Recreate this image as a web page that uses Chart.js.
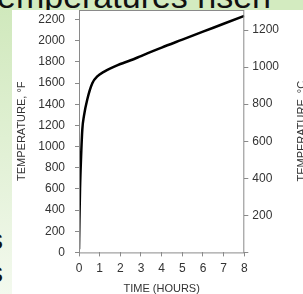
<!DOCTYPE html>
<html>
<head>
<meta charset="utf-8">
<script src="https://cdn.jsdelivr.net/npm/chart.js@4"></script>
<style>
  html, body { margin: 0; padding: 0; }
  body { width: 303px; height: 294px; overflow: hidden; position: relative;
         background: linear-gradient(#cfe8bb, #f3f9ee); font-family: "Liberation Sans", Arial, sans-serif; }
  #topStrip { position: absolute; left: 0; top: 0; width: 303px; height: 10px; background: #d3ebc0; overflow: hidden; }
  #topStrip span { position: absolute; left: -20px; top: -21px; font-size: 34px; line-height: 34px; color: #111; white-space: nowrap; }
  .sideS { position: absolute; left: -11px; font-size: 28px; line-height: 28px; color: #111; }
  #panel { position: absolute; left: 12px; top: 10px; width: 291px; height: 284px; background: #fff; }
  #chart { position: absolute; left: 0; top: 0; }
</style>
</head>
<body>
<div id="topStrip"><span>Temperatures risen</span></div>
<div class="sideS" style="top:226px">s</div>
<div class="sideS" style="top:259px">s</div>
<div id="panel"></div>
<canvas id="chart" width="303" height="294"></canvas>
<script>
// values
const hours = [0, 0.02, 0.05, 0.1, 0.16, 0.24, 0.4, 0.65, 0.9, 1.2, 1.6, 2, 2.5, 3, 4, 5, 6, 7, 8];
const tempF = [30, 300, 600, 900, 1160, 1290, 1445, 1600, 1665, 1705, 1745, 1780, 1815, 1855, 1935, 2010, 2085, 2160, 2235];

const xTitle = "TIME (HOURS)";
const leftTitle = "TEMPERATURE, °F";
const rightTitle = "TEMPERATURE, °C";

const textColor = "#333";
const frameColor = "#8a8a8a";

// frame round the plot + right hand title (reads bottom to top)
const framePlugin = {
  id: "frame",
  afterDraw(chart) {
    const { ctx, chartArea } = chart;
    ctx.save();
    ctx.strokeStyle = frameColor;
    ctx.lineWidth = 1;
    ctx.strokeRect(chartArea.left + 0.5, chartArea.top + 0.5,
      chartArea.right - chartArea.left - 1, chartArea.bottom - chartArea.top);
    ctx.translate(302, (chartArea.top + chartArea.bottom) / 2);
    ctx.rotate(-Math.PI / 2);
    ctx.fillStyle = textColor;
    ctx.font = '11px "Liberation Sans", Arial, sans-serif';
    ctx.textAlign = "center";
    ctx.textBaseline = "middle";
    ctx.fillText(rightTitle, 0, 0);
    ctx.restore();
  },
};

const tickFont = { family: '"Liberation Sans", Arial, sans-serif', size: 12 };
const titleFont = { family: '"Liberation Sans", Arial, sans-serif', size: 11 };

// let the plot reach up to the layout padding
const noTopPad = (scale) => { scale.paddingTop = 0; };

new Chart(document.getElementById("chart"), {
  type: "line",
  data: {
    datasets: [
      {
        data: hours.map((h, i) => ({ x: h, y: tempF[i] })),
        borderColor: "#000",
        borderWidth: 2.5,
        pointRadius: 0,
        cubicInterpolationMode: "monotone",
        yAxisID: "y",
      },
    ],
  },
  options: {
    responsive: false,
    animation: false,
    layout: { padding: { left: 11, right: 20, top: 10, bottom: -2 } },
    plugins: { legend: { display: false }, tooltip: { enabled: false } },
    scales: {
      x: {
        type: "linear",
        min: 0,
        max: 8,
        border: { display: false },
        grid: { drawOnChartArea: false, tickLength: 4, color: frameColor },
        ticks: { stepSize: 1, padding: 5, color: textColor, font: tickFont },
        title: { display: true, text: xTitle, color: textColor, font: titleFont, padding: { top: 2, bottom: 0 } },
      },
      y: {
        position: "left",
        min: 0,
        max: 2290,
        border: { display: false },
        afterFit: noTopPad,
        grid: { drawOnChartArea: false, tickLength: 4, color: frameColor },
        ticks: { stepSize: 200, includeBounds: false, padding: 10, color: textColor, font: tickFont,
                 callback: (v) => String(v) },
        title: { display: true, text: leftTitle, color: textColor, font: titleFont, padding: { top: 4, bottom: 10 } },
      },
      yC: {
        position: "right",
        min: 0,
        max: 1308,
        border: { display: false },
        afterFit: noTopPad,
        grid: { drawOnChartArea: false, tickLength: 4, color: frameColor },
        ticks: { stepSize: 200, includeBounds: false, padding: 4, color: textColor, font: tickFont,
                 callback: (v) => (v === 0 ? "" : String(v)) },
      },
    },
  },
  plugins: [framePlugin],
});
</script>
</body>
</html>
